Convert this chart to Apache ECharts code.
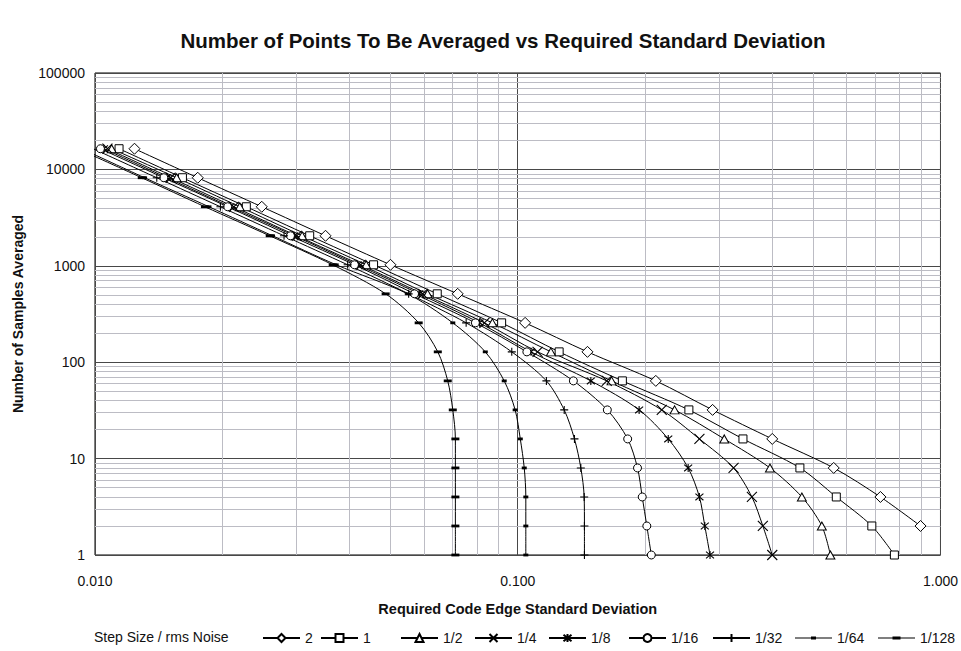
<!DOCTYPE html>
<html>
<head>
<meta charset="utf-8">
<script src="https://cdn.jsdelivr.net/npm/echarts@6/dist/echarts.min.js"></script>
<style>
  html, body { margin: 0; padding: 0; background: #fff; }
  #chart { width: 961px; height: 651px; }
</style>
</head>
<body>
<div id="chart"></div>
<script>
// Number of samples averaged (powers of two)
const samplesAveraged = [1, 2, 4, 8, 16, 32, 64, 128, 256, 512, 1024, 2048, 4096, 8192, 16384];

// Required code edge standard deviation, one array per step size / rms noise ratio,
// listed in the same order as samplesAveraged (null = beyond the plotted range)
const sd_2     = [null,   0.897,  0.721,  0.559,  0.400,  0.289,  0.2121, 0.1462, 0.1041, 0.0721, 0.0500, 0.0351, 0.0248, 0.0175, 0.0124];
const sd_1     = [0.778,  0.688,  0.567,  0.465,  0.341,  0.254,  0.1768, 0.1253, 0.0916, 0.0645, 0.0456, 0.0322, 0.0228, 0.0161, 0.0114];
const sd_1_2   = [0.549,  0.524,  0.470,  0.395,  0.308,  0.235,  0.1667, 0.1198, 0.0871, 0.0612, 0.0438, 0.0309, 0.0220, 0.0156, 0.01095];
const sd_1_4   = [0.400,  0.380,  0.358,  0.324,  0.269,  0.2191, 0.1624, 0.1114, 0.0834, 0.0596, 0.0425, 0.0300, 0.0213, 0.0151, 0.0107];
const sd_1_8   = [0.285,  0.277,  0.269,  0.253,  0.227,  0.1937, 0.1489, 0.1075, 0.0812, 0.0585, 0.0418, 0.0296, 0.0209, 0.0148, 0.0105];
const sd_1_16  = [0.207,  0.202,  0.197,  0.192,  0.182,  0.1629, 0.1354, 0.1051, 0.0794, 0.0570, 0.0411, 0.0290, 0.0206, 0.01455, 0.0103];
const sd_1_32  = [0.1438, 0.1438, 0.1436, 0.1410, 0.1362, 0.1288, 0.1169, 0.0968, 0.0755, 0.0552, 0.0396, 0.0280, 0.0198, 0.0140, 0.0099];
const sd_1_64  = [0.1045, 0.1045, 0.1045, 0.1036, 0.1014, 0.0986, 0.0929, 0.0838, 0.0702, 0.0549, 0.0372, 0.0263, 0.0186, 0.0131, 0.0093];
const sd_1_128 = [0.0712, 0.0712, 0.0712, 0.0712, 0.0712, 0.0702, 0.0683, 0.0647, 0.0583, 0.0487, 0.0365, 0.0259, 0.0182, 0.0129, 0.0091];

const seriesNames = ['2', '1', '1/2', '1/4', '1/8', '1/16', '1/32', '1/64', '1/128'];
const seriesValues = [sd_2, sd_1, sd_1_2, sd_1_4, sd_1_8, sd_1_16, sd_1_32, sd_1_64, sd_1_128];

// Axis tick labels
const xTickLabels = ['0.010', '0.100', '1.000'];
const yTickLabels = ['1', '10', '100', '1000', '10000', '100000'];

const FONT = '"Liberation Sans", Arial, Helvetica, sans-serif';

// Marker look for each series
const hollow = { color: '#fff', borderColor: '#000', borderWidth: 1 };
const stroked = { color: '#000', borderColor: '#000', borderWidth: 1.1 };
const solid = { color: '#000', borderWidth: 0 };
const markers = [
  { symbol: 'diamond', symbolSize: [11, 11], itemStyle: hollow },
  { symbol: 'rect', symbolSize: 8, itemStyle: hollow },
  { symbol: 'triangle', symbolSize: [9, 8], itemStyle: hollow },
  { symbol: 'path://M0,0L10,10M10,0L0,10', symbolSize: 10, itemStyle: stroked },
  { symbol: 'path://M0,0L10,10M10,0L0,10M5,-1L5,11', symbolSize: 8, itemStyle: stroked },
  { symbol: 'circle', symbolSize: 8, itemStyle: hollow },
  { symbol: 'path://M5,0L5,10M0,5L10,5', symbolSize: 8, itemStyle: stroked },
  { symbol: 'path://M0,0M10,10M2.5,3.6L7.5,3.6L7.5,6.4L2.5,6.4Z', symbolSize: 10, itemStyle: solid },
  { symbol: 'path://M0,0M10,10M1,3.6L9,3.6L9,6.4L1,6.4Z', symbolSize: 10, itemStyle: solid }
];

// Legend icons for the two dash-marker series: connecting line plus a solid dash
const legendIcons = {
  '1/64': 'path://M0,4.9L37,4.9L37,6.1L0,6.1ZM16,4L21,4L21,7L16,7Z',
  '1/128': 'path://M0,4.9L37,4.9L37,6.1L0,6.1ZM14.5,4L22.5,4L22.5,7L14.5,7Z'
};

// Minor log gridlines (2..9 within each decade)
const minorX = [], minorY = [];
for (let d = -2; d < 0; d++) for (let m = 2; m <= 9; m++) minorX.push({ xAxis: +(m * Math.pow(10, d)).toPrecision(3) });
for (let d = 0; d < 5; d++) for (let m = 2; m <= 9; m++) minorY.push({ yAxis: m * Math.pow(10, d) });

const dataSeries = seriesNames.map((name, i) => {
  const pts = [];
  seriesValues[i].forEach((x, k) => { if (x !== null) pts.push([x, samplesAveraged[k]]); });
  return Object.assign({
    name: name,
    type: 'line',
    data: pts,
    smooth: 0.3,
    clip: true,
    z: 3,
    lineStyle: { color: '#000', width: 1 },
    emphasis: { disabled: true }
  }, markers[i]);
});

const gridSeries = {
  name: 'gridlines',
  type: 'line',
  data: [],
  z: 1,
  silent: true,
  markLine: {
    silent: true,
    z: 1,
    symbol: 'none',
    label: { show: false },
    lineStyle: { type: 'solid', color: '#bcbcc4', width: 1 },
    emphasis: { disabled: true },
    animation: false,
    data: minorX.concat(minorY)
  }
};

const legendLeft = [262, 320, 400, 474, 548, 628, 712, 795, 878];

const chart = echarts.init(document.getElementById('chart'), null, { renderer: 'svg' });
chart.setOption({
  animation: false,
  backgroundColor: '#fff',
  textStyle: { fontFamily: FONT },
  grid: {
    left: 95, right: 19, top: 73, bottom: 96,
    show: true, borderColor: '#000', borderWidth: 1, backgroundColor: 'transparent'
  },
  graphic: [
    {
      type: 'text', x: 503, y: 40,
      style: {
        text: 'Number of Points To Be Averaged vs Required Standard Deviation',
        font: 'bold 20.5px ' + FONT, fill: '#111', textAlign: 'center', textVerticalAlign: 'middle'
      }
    },
    {
      type: 'text', x: 94, y: 637,
      style: {
        text: 'Step Size / rms Noise',
        font: '14px ' + FONT, fill: '#111', textAlign: 'left', textVerticalAlign: 'middle'
      }
    }
  ],
  legend: seriesNames.map((name, i) => ({
    data: [legendIcons[name] ? { name: name, icon: legendIcons[name] } : name],
    left: legendLeft[i],
    top: 631,
    padding: 0,
    itemWidth: 37,
    itemHeight: 10,
    itemGap: 0,
    selectedMode: false,
    textStyle: { fontFamily: FONT, fontSize: 14, color: '#111' }
  })),
  xAxis: {
    type: 'log', logBase: 10, min: 0.01, max: 1,
    name: 'Required Code Edge Standard Deviation',
    nameLocation: 'middle', nameGap: 46,
    nameTextStyle: { fontFamily: FONT, fontSize: 14.5, fontWeight: 'bold', color: '#111' },
    axisLine: { show: false },
    axisTick: { show: false },
    axisLabel: {
      margin: 19, fontSize: 14, color: '#111', fontFamily: FONT,
      formatter: v => xTickLabels[Math.round(Math.log10(v)) + 2]
    },
    splitLine: { show: true, lineStyle: { color: '#484848', width: 1 } }
  },
  yAxis: {
    type: 'log', logBase: 10, min: 1, max: 100000,
    name: 'Number of Samples Averaged',
    nameLocation: 'middle', nameGap: 70,
    nameTextStyle: { fontFamily: FONT, fontSize: 14, fontWeight: 'bold', color: '#111' },
    axisLine: { show: false },
    axisTick: { show: false },
    axisLabel: {
      margin: 10, fontSize: 14, color: '#111', fontFamily: FONT,
      formatter: v => yTickLabels[Math.round(Math.log10(v))]
    },
    splitLine: { show: true, lineStyle: { color: '#484848', width: 1 } }
  },
  series: [gridSeries].concat(dataSeries)
});
</script>
</body>
</html>
